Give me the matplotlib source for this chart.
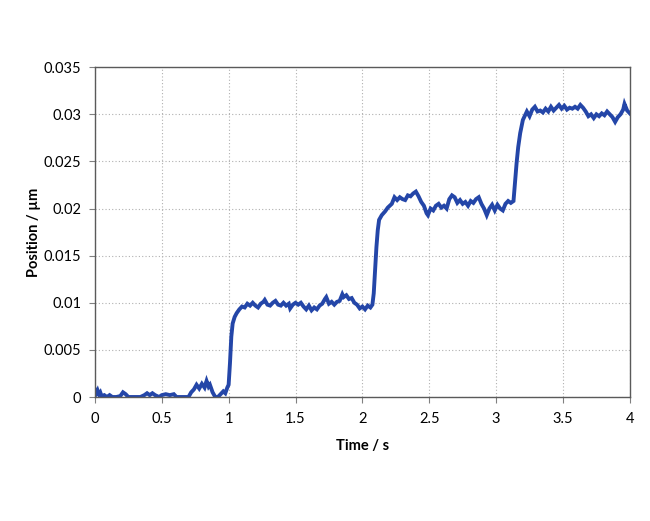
import matplotlib.pyplot as plt
import numpy as np

# position trace (time in s, position in um)
time_s = [
    0.00, 0.01, 0.02, 0.03, 0.04, 0.05, 0.07, 0.09, 0.11, 0.13, 0.16, 0.19, 0.21, 0.23, 0.25,
    0.30, 0.34, 0.37, 0.39, 0.41, 0.43, 0.45, 0.48, 0.50, 0.53, 0.56, 0.59, 0.61, 0.66, 0.70,
    0.72, 0.74, 0.76, 0.78, 0.80, 0.82, 0.835, 0.85, 0.86, 0.88, 0.90, 0.92, 0.94, 0.96, 0.975,
    0.99, 1.00,
    1.01, 1.02, 1.03, 1.045, 1.06, 1.08, 1.10, 1.12, 1.14,
    1.16, 1.18, 1.20, 1.22, 1.24, 1.26, 1.27, 1.29, 1.31, 1.33, 1.35, 1.37, 1.39, 1.41, 1.43,
    1.45, 1.46, 1.48, 1.50, 1.52, 1.54, 1.56, 1.58, 1.60, 1.62, 1.64, 1.66, 1.68, 1.70, 1.72,
    1.73, 1.75, 1.77, 1.79, 1.81, 1.83, 1.85, 1.86, 1.88, 1.90, 1.92, 1.94, 1.96, 1.98, 2.00,
    2.02, 2.04, 2.06, 2.075,
    2.085, 2.095, 2.105, 2.115, 2.125, 2.145, 2.17, 2.19, 2.22, 2.24,
    2.26, 2.28, 2.30, 2.32, 2.34, 2.36, 2.38, 2.40, 2.42, 2.44, 2.46, 2.48, 2.49, 2.51, 2.53,
    2.55, 2.57, 2.59, 2.61, 2.63, 2.65, 2.67, 2.69, 2.71, 2.73, 2.75, 2.77, 2.79, 2.81, 2.83,
    2.85, 2.87, 2.89, 2.91, 2.93, 2.95, 2.97, 2.99, 3.01, 3.03, 3.05, 3.07, 3.09, 3.11, 3.13,
    3.14, 3.153, 3.165, 3.18, 3.20, 3.23,
    3.25, 3.27, 3.29, 3.31, 3.33, 3.35, 3.37, 3.39, 3.41, 3.43, 3.45, 3.47, 3.49, 3.51, 3.53,
    3.55, 3.57, 3.59, 3.61, 3.63, 3.65, 3.67, 3.69, 3.71, 3.73, 3.75, 3.77, 3.79, 3.81, 3.83,
    3.85, 3.87, 3.89, 3.91, 3.93, 3.95, 3.96, 3.98, 4.00,
]
position_um = [
    0.0008, 0.0004, 0.0007, 0.0003, 0.0005, 0.0001, 0.0002, 0.0000, 0.0002, 0.0000, 0.0000,
    0.0001, 0.0005, 0.0003, 0.0000, 0.0000, 0.0000, 0.0002, 0.0004, 0.0002, 0.0004, 0.0002,
    0.0000, 0.0002, 0.0003, 0.0002, 0.0003, 0.0000, 0.0000, 0.0000, 0.0005, 0.0008, 0.0013,
    0.0009, 0.0014, 0.0010, 0.0017, 0.0011, 0.0013, 0.0005, 0.0000, 0.0000, 0.0003, 0.0006,
    0.0004, 0.0010, 0.0013,
    0.0036, 0.0064, 0.0078, 0.0085, 0.0089, 0.0093, 0.0096, 0.0095, 0.0099,
    0.0097, 0.0100, 0.0097, 0.0095, 0.0099, 0.0101, 0.0103, 0.0098, 0.0097, 0.0100, 0.0102,
    0.0098, 0.0097, 0.0100, 0.0097, 0.0099, 0.0094, 0.0098, 0.0100, 0.0098, 0.0100, 0.0096,
    0.0093, 0.0097, 0.0092, 0.0095, 0.0093, 0.0097, 0.0099, 0.0104, 0.0106, 0.0099, 0.0101,
    0.0098, 0.0101, 0.0102, 0.0109, 0.0106, 0.0108, 0.0104, 0.0105, 0.0100, 0.0098, 0.0094,
    0.0096, 0.0093, 0.0097, 0.0095, 0.0098,
    0.0110, 0.0135, 0.0159, 0.0177, 0.0188, 0.0193, 0.0197, 0.0201, 0.0205, 0.0212,
    0.0209, 0.0212, 0.0210, 0.0209, 0.0214, 0.0213, 0.0216, 0.0218, 0.0213, 0.0207, 0.0203,
    0.0195, 0.0193, 0.0200, 0.0198, 0.0203, 0.0205, 0.0201, 0.0203, 0.0200, 0.0210, 0.0214,
    0.0212, 0.0206, 0.0209, 0.0205, 0.0207, 0.0203, 0.0208, 0.0206, 0.0210, 0.0212, 0.0205,
    0.0200, 0.0193, 0.0200, 0.0204, 0.0198, 0.0204, 0.0200, 0.0198, 0.0205, 0.0208, 0.0206,
    0.0208,
    0.0225, 0.0248, 0.0265, 0.0280, 0.0294, 0.0303,
    0.0298, 0.0305, 0.0308, 0.0303, 0.0304, 0.0302, 0.0306, 0.0303, 0.0308, 0.0304, 0.0307,
    0.0310, 0.0306, 0.0309, 0.0305, 0.0307, 0.0306, 0.0308, 0.0306, 0.0310, 0.0307, 0.0303,
    0.0298, 0.0300, 0.0296, 0.0300, 0.0298, 0.0301, 0.0299, 0.0303, 0.0300, 0.0297, 0.0292,
    0.0297, 0.0300, 0.0305, 0.0311, 0.0304, 0.0301,
]

x_ticks = [0, 0.5, 1, 1.5, 2, 2.5, 3, 3.5, 4]
x_tick_labels = ['0', '0.5', '1', '1.5', '2', '2.5', '3', '3.5', '4']
y_ticks = [0, 0.005, 0.01, 0.015, 0.02, 0.025, 0.03, 0.035]
y_tick_labels = ['0', '0.005', '0.01', '0.015', '0.02', '0.025', '0.03', '0.035']

plt.rcParams['font.family'] = ['Lato', 'DejaVu Sans']

fig = plt.figure(figsize=(6.5, 5.21), dpi=100)
ax = fig.add_axes([0.146, 0.238, 0.823, 0.633])

ax.plot(time_s, position_um, color='#2446a8', linewidth=2.8, solid_joinstyle='miter')

ax.set_xlim(0, 4)
ax.set_ylim(0, 0.035)
ax.set_xticks(x_ticks, x_tick_labels)
ax.set_yticks(y_ticks, y_tick_labels)
ax.tick_params(labelsize=10.5, length=4, color='#808080', direction='out')
ax.tick_params(axis='x', pad=7)
ax.tick_params(axis='y', pad=6)
ax.grid(True, linestyle=(0, (1, 2)), color='#b0b0b0', linewidth=0.8)

for side in ['left', 'bottom', 'top', 'right']:
    ax.spines[side].set_color('#5a5a5a')
    ax.spines[side].set_linewidth(1.0)

ax.set_xlabel('Time / s', fontsize=10.5, fontweight='bold', labelpad=9)
ax.set_ylabel('Position / µm', fontsize=10.5, fontweight='bold', labelpad=2)

plt.savefig('out.png', dpi=100)
